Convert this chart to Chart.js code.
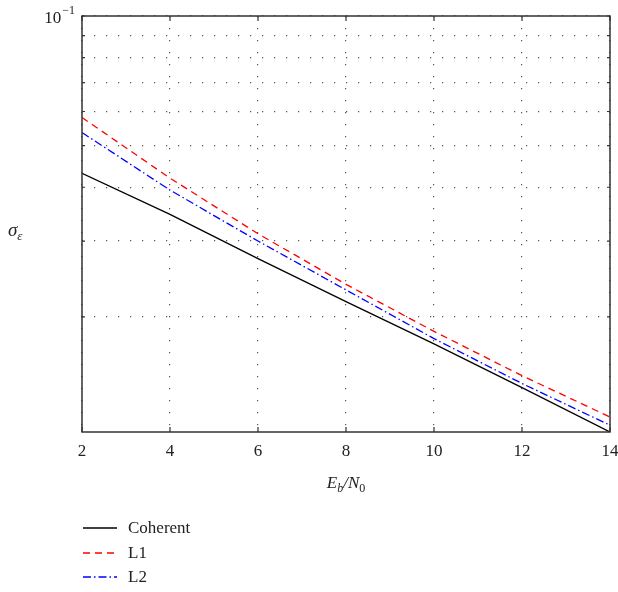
<!DOCTYPE html>
<html>
<head>
<meta charset="utf-8">
<script src="https://cdn.jsdelivr.net/npm/chart.js@4.4.1/dist/chart.umd.min.js"></script>
<style>
  html, body { margin: 0; padding: 0; background: #ffffff; }
  #wrap { width: 618px; height: 592px; position: relative; }
</style>
</head>
<body>
<div id="wrap"><canvas id="c" width="618" height="592"></canvas></div>
<script>
// ---- data ----
const ebN0 = [2, 4, 6, 8, 10, 12, 14];
const coherent = [0.0431, 0.0346, 0.0273, 0.0217, 0.0173, 0.0137, 0.0108];
const l1 = [0.0581, 0.0420, 0.0312, 0.0238, 0.0185, 0.0146, 0.0117];
const l2 = [0.0536, 0.0394, 0.0300, 0.0231, 0.0178, 0.0140, 0.0112];
const seriesNames = ['Coherent', 'L1', 'L2'];
const xTickValues = [2, 4, 6, 8, 10, 12, 14];
const yGridValues = [0.02, 0.03, 0.04, 0.05, 0.06, 0.07, 0.08, 0.09, 0.1];
const yMin = 0.0108, yMax = 0.1;
const yTopLabel = { base: '10', exp: '\u22121' };

const SERIF = '"Liberation Serif", "DejaVu Serif", serif';

function toPoints(ys) { return ebN0.map((x, i) => ({ x: x, y: ys[i] })); }

const decorPlugin = {
  id: 'decor',
  afterDraw(chart) {
    const ctx = chart.ctx;
    const a = chart.chartArea;
    const xs = chart.scales.x, ys = chart.scales.y;
    ctx.save();
    // frame
    ctx.strokeStyle = '#333';
    ctx.lineWidth = 1.5;
    ctx.setLineDash([]);
    ctx.strokeRect(a.left, a.top, a.right - a.left, a.bottom - a.top);
    // inner ticks
    ctx.lineWidth = 1.2;
    xTickValues.forEach(v => {
      const px = xs.getPixelForValue(v);
      ctx.beginPath();
      ctx.moveTo(px, a.bottom); ctx.lineTo(px, a.bottom - 5);
      ctx.moveTo(px, a.top); ctx.lineTo(px, a.top + 5);
      ctx.stroke();
    });
    yGridValues.forEach(v => {
      const py = ys.getPixelForValue(v);
      ctx.beginPath();
      ctx.moveTo(a.left, py); ctx.lineTo(a.left + 3, py);
      ctx.moveTo(a.right, py); ctx.lineTo(a.right - 3, py);
      ctx.stroke();
    });
    // y top label 10^-1
    ctx.fillStyle = '#222';
    ctx.textBaseline = 'alphabetic';
    const py = ys.getPixelForValue(yMax);
    ctx.font = '12px ' + SERIF;
    ctx.textAlign = 'right';
    const expX = a.left - 7;
    ctx.fillText(yTopLabel.exp, expX, py - 2);
    const expW = ctx.measureText(yTopLabel.exp).width;
    ctx.font = '17px ' + SERIF;
    ctx.fillText(yTopLabel.base, expX - expW - 1, py + 7);
    // y title sigma_epsilon
    ctx.textAlign = 'left';
    ctx.font = 'italic 19px ' + SERIF;
    ctx.fillText('\u03C3', 8, 236);
    const sw = ctx.measureText('\u03C3').width;
    ctx.font = 'italic 13px ' + SERIF;
    ctx.fillText('\u03B5', 8 + sw, 240);
    // x title E_b/N_0
    const parts = [
      { t: 'E', f: 'italic 17px ' + SERIF, dy: 0 },
      { t: 'b', f: 'italic 12px ' + SERIF, dy: 4 },
      { t: '/N', f: 'italic 17px ' + SERIF, dy: 0 },
      { t: '0', f: '12px ' + SERIF, dy: 4 }
    ];
    let total = 0;
    parts.forEach(p => { ctx.font = p.f; p.w = ctx.measureText(p.t).width; total += p.w; });
    let cx = (a.left + a.right) / 2 - total / 2;
    parts.forEach(p => { ctx.font = p.f; ctx.fillText(p.t, cx, 488 + p.dy); cx += p.w; });
    // legend
    const rows = [528, 553, 577];
    chart.data.datasets.forEach((ds, i) => {
      const y = rows[i];
      ctx.strokeStyle = ds.borderColor;
      ctx.lineWidth = ds.borderWidth;
      ctx.setLineDash(ds.borderDash || []);
      ctx.beginPath();
      ctx.moveTo(83, y); ctx.lineTo(117, y);
      ctx.stroke();
      ctx.setLineDash([]);
      ctx.fillStyle = '#222';
      ctx.font = '17px ' + SERIF;
      ctx.textBaseline = 'middle';
      ctx.fillText(ds.label, 128, y + 1);
      ctx.textBaseline = 'alphabetic';
    });
    ctx.restore();
  }
};

new Chart(document.getElementById('c'), {
  type: 'line',
  data: {
    datasets: [
      { label: seriesNames[0], data: toPoints(coherent), borderColor: '#000000', borderWidth: 1.3, borderDash: [], pointRadius: 0, fill: false, tension: 0 },
      { label: seriesNames[1], data: toPoints(l1), borderColor: '#ff0000', borderWidth: 1.3, borderDash: [7, 5], pointRadius: 0, fill: false, tension: 0 },
      { label: seriesNames[2], data: toPoints(l2), borderColor: '#0000ff', borderWidth: 1.3, borderDash: [8, 3, 1.5, 3], pointRadius: 0, fill: false, tension: 0 }
    ]
  },
  options: {
    responsive: false,
    animation: false,
    devicePixelRatio: 1,
    layout: { padding: { left: 0, right: 0, top: 16, bottom: 0 } },
    plugins: { legend: { display: false }, tooltip: { enabled: false } },
    scales: {
      x: {
        type: 'linear', min: 2, max: 14,
        afterBuildTicks(scale) { scale.ticks = xTickValues.map(v => ({ value: v })); },
        afterFit(scale) { scale.height = 160; scale.paddingRight = 8; scale.paddingLeft = 0; },
        grid: { color: '#555', lineWidth: 1.2, drawTicks: false },
        border: { display: false, dash: [1.2, 10.8] },
        ticks: { padding: 9, color: '#222', font: { family: SERIF, size: 17 }, maxRotation: 0, autoSkip: false }
      },
      y: {
        type: 'logarithmic', min: yMin, max: yMax,
        afterBuildTicks(scale) { scale.ticks = yGridValues.map(v => ({ value: v })); },
        afterFit(scale) { scale.width = 82; scale.paddingTop = 0; scale.paddingBottom = 0; },
        grid: { color: '#555', lineWidth: 1.2, drawTicks: false },
        border: { display: false, dash: [1.2, 10.8] },
        ticks: { display: false }
      }
    }
  },
  plugins: [decorPlugin]
});
</script>
</body>
</html>
